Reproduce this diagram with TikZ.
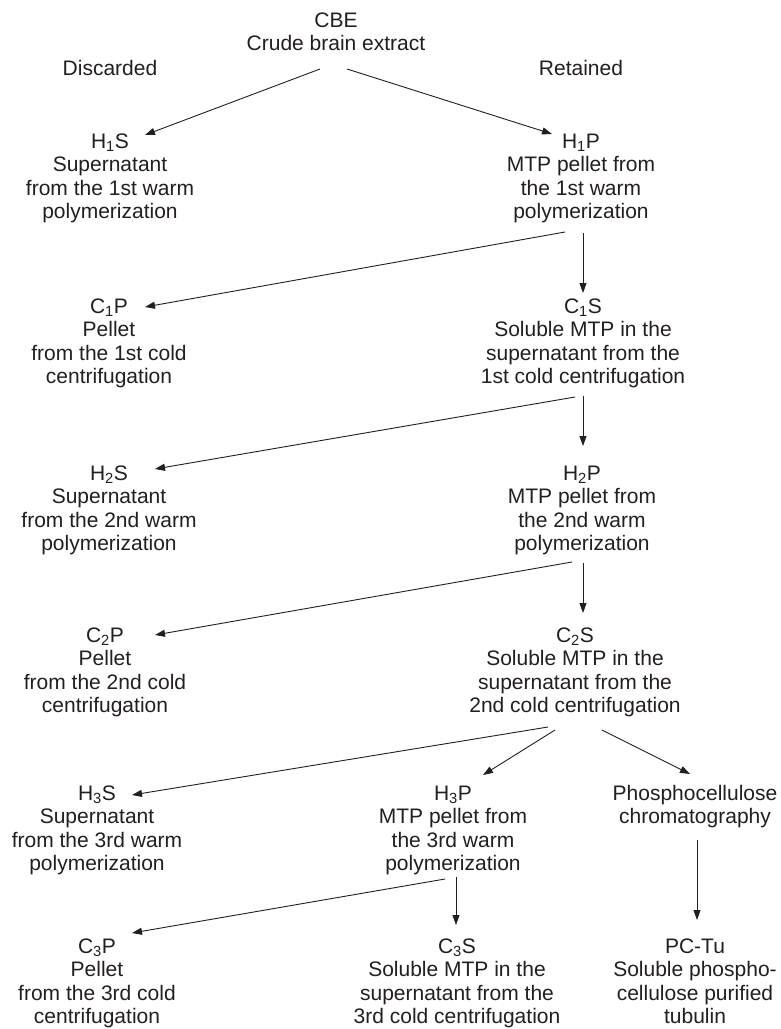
\documentclass[tikz,border=0pt]{standalone}
\usepackage{fontspec}
\setmainfont{Liberation Sans}
\usetikzlibrary{arrows.meta,calc}
\definecolor{ink}{HTML}{231F20}
\newcommand{\stk}[1]{\begin{tabular}[t]{@{}c@{}}#1\end{tabular}}
\begin{document}
\begin{tikzpicture}[x=1pt,y=-1pt,
  txt/.style={anchor=base, inner sep=0pt, text=ink, font=\fontsize{21}{23.6}\selectfont},
  arr/.style={draw=ink, line width=0.9pt, -{Triangle[length=10pt,width=7pt]}}]
\fill[white] (0,0) rectangle (780,1029);
\useasboundingbox (0,0) rectangle (780,1029);
% nodes
\node[txt] (cbe) at (336,27) {\stk{CBE\\Crude brain extract}};
\node[txt] (disc) at (110,75) {Discarded};
\node[txt] (ret) at (581,75) {Retained};
\node[txt] (h1s) at (110,148) {\stk{H\textsubscript{1}S\\Supernatant\\from the 1st warm\\polymerization}};
\node[txt] (h1p) at (581,148) {\stk{H\textsubscript{1}P\\MTP pellet from\\the 1st warm\\polymerization}};
\node[txt] (c1p) at (109,313) {\stk{C\textsubscript{1}P\\Pellet\\from the 1st cold\\centrifugation}};
\node[txt] (c1s) at (583,313) {\stk{C\textsubscript{1}S\\Soluble MTP in the\\supernatant from the\\1st cold centrifugation}};
\node[txt] (h2s) at (109,480) {\stk{H\textsubscript{2}S\\Supernatant\\from the 2nd warm\\polymerization}};
\node[txt] (h2p) at (582,480) {\stk{H\textsubscript{2}P\\MTP pellet from\\the 2nd warm\\polymerization}};
\node[txt] (c2p) at (105,642) {\stk{C\textsubscript{2}P\\Pellet\\from the 2nd cold\\centrifugation}};
\node[txt] (c2s) at (575,642) {\stk{C\textsubscript{2}S\\Soluble MTP in the\\supernatant from the\\2nd cold centrifugation}};
\node[txt] (h3s) at (97,800) {\stk{H\textsubscript{3}S\\Supernatant\\from the 3rd warm\\polymerization}};
\node[txt] (h3p) at (453,800) {\stk{H\textsubscript{3}P\\MTP pellet from\\the 3rd warm\\polymerization}};
\node[txt] (phos) at (695,800) {\stk{Phosphocellulose\\chromatography}};
\node[txt] (c3p) at (97,953) {\stk{C\textsubscript{3}P\\Pellet\\from the 3rd cold\\centrifugation}};
\node[txt] (c3s) at (457,953) {\stk{C\textsubscript{3}S\\Soluble MTP in the\\supernatant from the\\3rd cold centrifugation}};
\node[txt] (pctu) at (695,953) {\stk{PC-Tu\\Soluble phospho-\\cellulose purified\\tubulin}};
% connectors
\draw[arr] ($(cbe.base)+(-16,42)$) -- ($(h1s.base)+(35,-13)$);
\draw[arr] ($(cbe.base)+(11,42)$) -- ($(h1p.base)+(-29,-14)$);
\draw[arr] ($(h1p.base)+(-16,84)$) -- ($(c1p.base)+(36,-6)$);
\draw[arr] ($(h1p.base)+(2,85)$) -- ($(c1s.base)+(0,-20)$);
\draw[arr] ($(c1s.base)+(-8,84)$) -- ($(h2s.base)+(46,-11)$);
\draw[arr] ($(c1s.base)+(0,83)$) -- ($(h2p.base)+(1,-34)$);
\draw[arr] ($(h2p.base)+(-10,82)$) -- ($(c2p.base)+(50,-7)$);
\draw[arr] ($(h2p.base)+(1,83)$) -- ($(c2s.base)+(8,-29)$);
\draw[arr] ($(c2s.base)+(-27,85)$) -- ($(h3s.base)+(35,-5)$);
\draw[arr] ($(c2s.base)+(-20,88)$) -- ($(h3p.base)+(30,-25)$);
\draw[arr] ($(c2s.base)+(27,88)$) -- ($(phos.base)+(-5,-26)$);
\draw[arr] ($(h3p.base)+(-8,79)$) -- ($(c3p.base)+(35,-20)$);
\draw[arr] ($(h3p.base)+(3,77)$) -- ($(c3s.base)+(-1,-28)$);
\draw[arr] ($(phos.base)+(2,40)$) -- ($(pctu.base)+(2,-33)$);
\end{tikzpicture}
\end{document}
